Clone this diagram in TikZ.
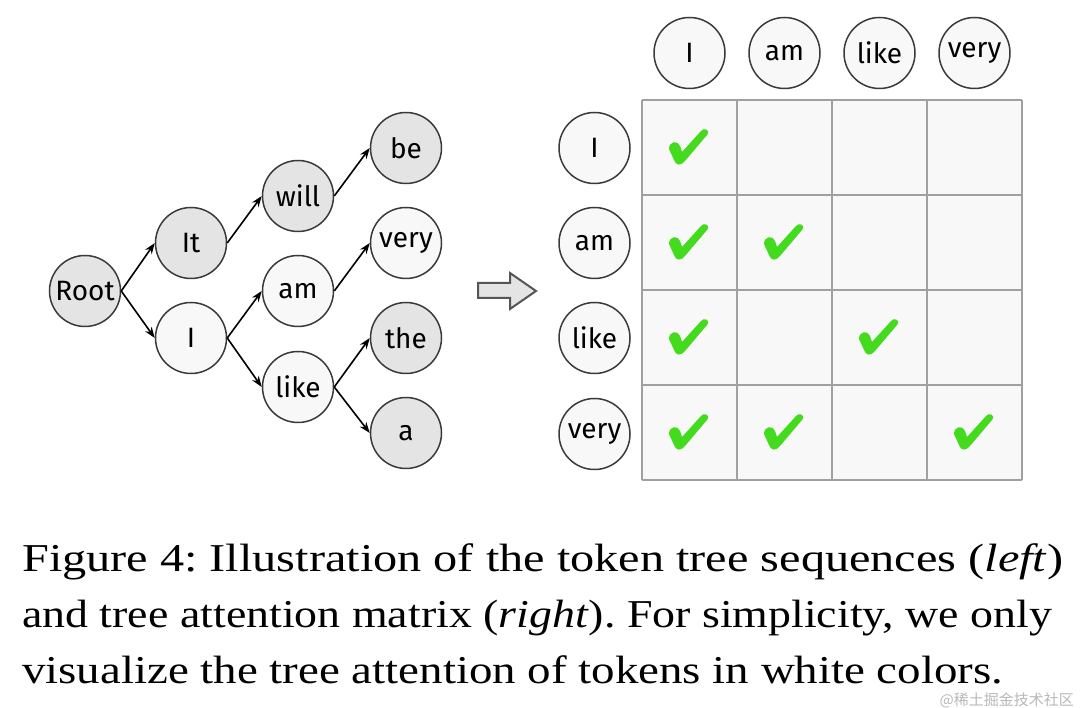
\documentclass[tikz,border=0pt]{standalone}
\usepackage{fontspec}
\setmainfont{Liberation Serif}
\newfontfamily\nodefont{Fira Sans}
\newfontfamily\cjkfont{Noto Sans CJK SC}
\usetikzlibrary{arrows.meta}
\frenchspacing
\definecolor{nodegray}{HTML}{E4E4E4}
\definecolor{nodewhite}{HTML}{F8F8F8}
\definecolor{rimcol}{HTML}{3A3A3A}
\definecolor{gridcol}{HTML}{A0A0A0}
\definecolor{cellcol}{HTML}{F8F8F8}
\definecolor{chkgreen}{HTML}{44DA1E}
\definecolor{arrowfill}{HTML}{E4E4E4}
\definecolor{arrowrim}{HTML}{555555}
\tikzset{
  tok/.style={circle, draw=rimcol, line width=1.5pt, minimum size=71pt, inner sep=0pt,
    font=\nodefont\fontsize{28}{32}\selectfont},
  graytok/.style={tok, fill=nodegray},
  whitetok/.style={tok, fill=nodewhite},
  edge/.style={line width=1.6pt, -{Stealth[length=11pt,width=8pt]}},
  capline/.style={anchor=base west, inner sep=0pt, font=\fontsize{39.5}{47}\selectfont},
  chk/.pic={
    \fill[chkgreen] (-20,2) .. controls (-20,-6) and (-11,-7) .. (-9,-1)
      -- (-7,5) -- (12,-16) .. controls (15,-20) and (22,-17) .. (18,-12)
      -- (-4,14) .. controls (-8,19) and (-13,19) .. (-15,13) -- cycle;
  }
}
\begin{document}
\begin{tikzpicture}[x=1pt,y=-1pt]
\useasboundingbox (0,0) rectangle (1080,708);
% tree
\node[graytok] (root) at (85,291) {Root};
\node[graytok] (it) at (191,243) {It};
\node[whitetok] (i) at (191,338) {I};
\node[graytok] (will) at (298,196) {will};
\node[whitetok] (am) at (298,291) {am};
\node[whitetok] (like) at (298,387) {like};
\node[graytok] (be) at (406,148) {be};
\node[whitetok] (very) at (406,243) {very};
\node[graytok] (the) at (406,338) {the};
\node[graytok] (a) at (406,433) {a};
\draw[edge] (root.east) -- (it.west);
\draw[edge] (root.east) -- (i.west);
\draw[edge] (it.east) -- (will.west);
\draw[edge] (i.east) -- (am.west);
\draw[edge] (i.east) -- (like.west);
\draw[edge] (will.east) -- (be.west);
\draw[edge] (am.east) -- (very.west);
\draw[edge] (like.east) -- (the.west);
\draw[edge] (like.east) -- (a.west);
% big arrow
\filldraw[fill=arrowfill, draw=arrowrim, line width=2pt, line join=miter]
  (478,283) -- (510,283) -- (510,273) -- (536,291) -- (510,309) -- (510,298) -- (478,298) -- cycle;
% matrix
\fill[cellcol] (642,100) rectangle (1022,480);
\foreach \k in {0,1,2,3,4} {
  \draw[gridcol, line width=2pt] (642+95*\k,100) -- (642+95*\k,480);
  \draw[gridcol, line width=2pt] (642,100+95*\k) -- (1022,100+95*\k);
}
% headers
\node[whitetok] (ci) at (689.5,53) {I};
\node[whitetok] (cam) at (784.5,53) {am};
\node[whitetok] (clike) at (879.5,53) {like};
\node[whitetok] (cvery) at (974.5,53) {very};
\node[whitetok] (ri) at (594.5,148) {I};
\node[whitetok] (ram) at (594.5,243) {am};
\node[whitetok] (rlike) at (594.5,338) {like};
\node[whitetok] (rvery) at (594.5,434) {very};
% checks
\path (689,147) pic {chk};
\path (689,242) pic {chk};
\path (784,242) pic {chk};
\path (689,337) pic {chk};
\path (879,337) pic {chk};
\path (689,432) pic {chk};
\path (784,432) pic {chk};
\path (974,432) pic {chk};
% caption
\node[capline] (cap1) at (22,571) {\resizebox{1041pt}{\height}{Figure 4: Illustration of the token tree sequences (\textit{left})}};
\node[capline] (cap2) at (22,627) {\resizebox{1030pt}{\height}{and tree attention matrix (\textit{right}). For simplicity, we only}};
\node[capline] (cap3) at (22,683) {\resizebox{981pt}{\height}{visualize the tree attention of tokens in white colors.}};
\node[anchor=base east, inner sep=0pt, text=black!28, font=\cjkfont\fontsize{15}{17}\selectfont] (wm) at (1074,705) {@稀土掘金技术社区};
\end{tikzpicture}
\end{document}
